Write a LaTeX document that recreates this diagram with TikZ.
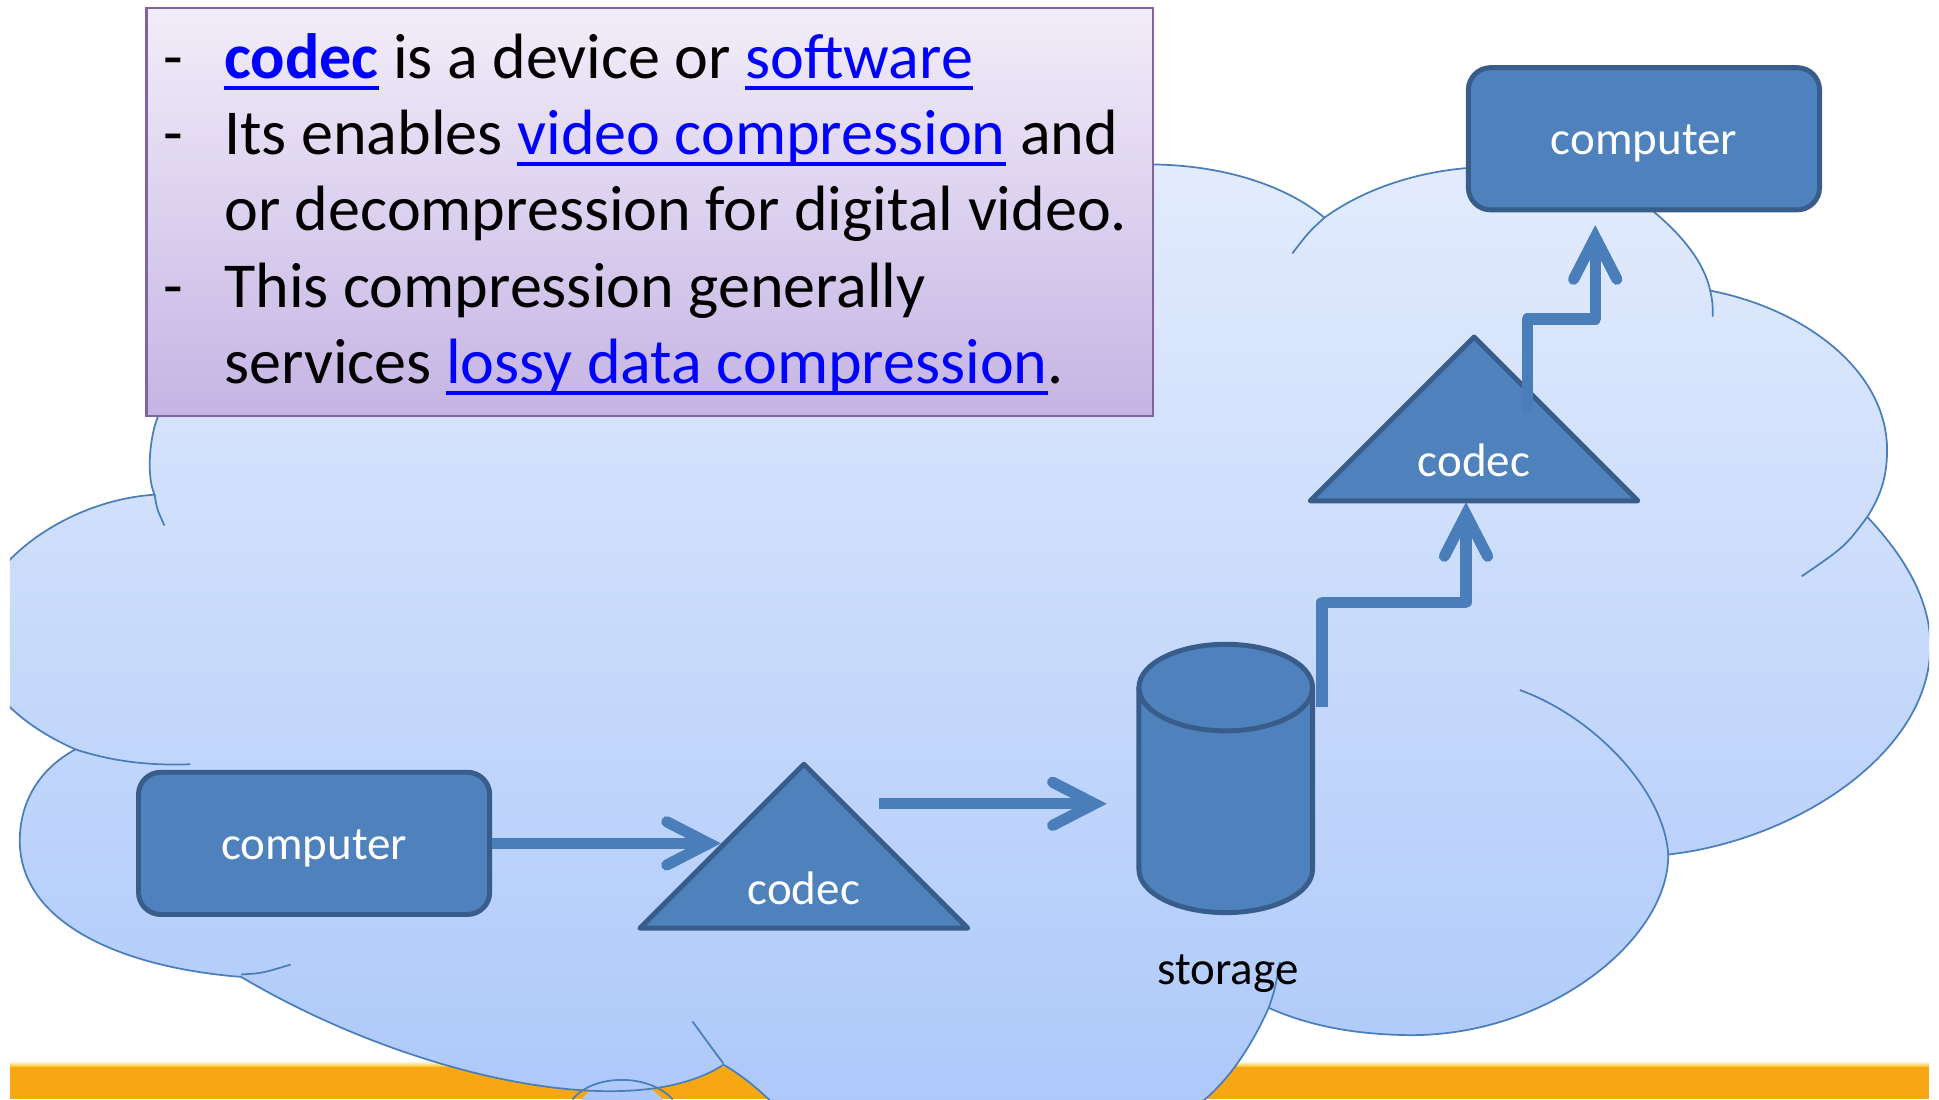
\documentclass[tikz,border=0pt]{standalone}
\usepackage{fontspec}
\setmainfont{Carlito}
\usetikzlibrary{arrows.meta}
\definecolor{cloudline}{RGB}{74,126,187}
\definecolor{cloudtop}{RGB}{229,237,253}
\definecolor{cloudbot}{RGB}{172,200,250}
\definecolor{shapefill}{RGB}{79,129,189}
\definecolor{shapeline}{RGB}{56,93,138}
\definecolor{arrowc}{RGB}{74,126,187}
\definecolor{barorange}{RGB}{247,167,18}
\definecolor{boxline}{RGB}{128,100,162}
\definecolor{boxtop}{RGB}{242,237,249}
\definecolor{boxbot}{RGB}{197,180,228}
\definecolor{linkblue}{RGB}{0,0,255}
\newcommand\lnk[1]{{\color{linkblue}\setbox0=\hbox{#1}\rlap{\rule[-0.18em]{\wd0}{0.065em}}\box0}}
\begin{document}
\begin{tikzpicture}[x=0.5pt,y=-0.5pt,
  cloudshape/.style={draw=cloudline, line width=0.7pt, top color=cloudtop, bottom color=cloudbot},
  innerarc/.style={draw=cloudline, line width=0.7pt},
  compbox/.style={rectangle, rounded corners=9pt, draw=shapeline, fill=shapefill, line width=2pt,
    minimum width=142pt, minimum height=57.5pt, text=white, font=\fontsize{19}{23}\selectfont,
    text height=16.3pt, text depth=3.5pt, inner sep=0pt},
  solidshape/.style={draw=shapeline, fill=shapefill, line width=2pt, line join=round},
  shapelabel/.style={anchor=base, inner sep=0pt, text=white, font=\fontsize{19}{23}\selectfont},
  plainlabel/.style={anchor=base, inner sep=0pt, text=black, font=\fontsize{19}{23}\selectfont},
  infobox/.style={draw=boxline, line width=1pt, top color=boxtop, bottom color=boxbot, inner sep=0pt},
  boxtext/.style={anchor=base west, inner sep=0pt, text=black, font=\fontsize{25.9}{30.8}\selectfont},
  conn/.style={draw=arrowc, line width=4.5pt, line join=round,
    -{Straight Barb[length=17pt, width=17.5pt, line cap=round, line join=miter]}}
]
\useasboundingbox (0,0) rectangle (1568,889);
\fill[white] (0,0) rectangle (1568,889);

\begin{scope}
\clip (8,0) rectangle (1560,889);
% orange bar
\shade[top color=white, bottom color=barorange!75!yellow] (8,858) rectangle (1560,863);
\fill[barorange] (8,863) rectangle (1560,889);
% small bottom lobe
\fill[cloudbot] (503,912) ellipse [x radius=41, y radius=38];
% cloud
\path[cloudshape] (125,400)
  .. controls (118,385) and (121,350) .. (129,334)
  .. controls (160,150) and (600,100) .. (934,133)
  .. controls (990,134) and (1040,150) .. (1071,176)
  .. controls (1100,155) and (1140,140) .. (1185,136)
  .. controls (1250,130) and (1320,150) .. (1337,171)
  .. controls (1360,190) and (1378,212) .. (1383,235)
  .. controls (1460,250) and (1526,300) .. (1526,364)
  .. controls (1526,390) and (1518,405) .. (1510,418)
  .. controls (1545,455) and (1561,490) .. (1561,522)
  .. controls (1561,610) and (1450,680) .. (1349,691)
  .. controls (1350,760) and (1250,840) .. (1135,837)
  .. controls (1090,836) and (1055,828) .. (1026,815)
  .. controls (1010,850) and (990,880) .. (960,900)
  -- (640,910)
  .. controls (630,895) and (605,872) .. (585,861)
  .. controls (510,910) and (330,870) .. (195,790)
  .. controls (95,782) and (16,745) .. (16,680)
  .. controls (16,645) and (35,620) .. (61,606)
  .. controls (25,590) and (-20,560) .. (-20,510)
  .. controls (-20,460) and (50,405) .. (125,400)
  -- cycle;
% inner arcs of the cloud
\draw[innerarc] (125,400) .. controls (127,412) .. (133,425);
\draw[innerarc] (61,606) .. controls (95,617) and (125,619) .. (154,618);
\draw[innerarc] (195,788) .. controls (212,787) .. (235,780);
\draw[innerarc] (463,889) .. controls (480,868) and (525,868) .. (544,889);
\draw[innerarc] (585,860) .. controls (576,848) .. (560,826);
\draw[innerarc] (1026,815) .. controls (1031,800) .. (1035,778);
\draw[innerarc] (1349,691) .. controls (1346,640) and (1290,580) .. (1229,558);
\draw[innerarc] (1510,418) .. controls (1492,442) .. (1457,466);
\draw[innerarc] (1383,235) .. controls (1385,245) .. (1385,256);
\draw[innerarc] (1071,176) .. controls (1058,188) .. (1045,205);
\end{scope}

% text box
\node[infobox, anchor=north west, minimum width=407pt, minimum height=165pt] (infobox) at (117.4,5.4) {};
\node[boxtext] (d1) at (132,63.3) {-};
\node[boxtext] (d2) at (132,125) {-};
\node[boxtext] (d3) at (132,248.4) {-};
\node[boxtext] (l1) at (181,63.3) {\lnk{\textbf{codec}} is a device or \lnk{software}};
\node[boxtext] (l2) at (181,125) {Its enables \lnk{video compression} and};
\node[boxtext] (l3) at (181,186.7) {or decompression for digital video.};
\node[boxtext] (l4) at (181,248.4) {This compression generally};
\node[boxtext] (l5) at (181,310.1) {services \lnk{lossy data compression}.};

% computers
\node[compbox] (comp1) at (254,682) {computer};
\node[compbox] (comp2) at (1329.4,112.2) {computer};

% codec triangles
\draw[solidshape] (517.4,750.6) -- (650,618) -- (782.6,750.6) -- cycle;
\node[shapelabel] (codecA) at (650,731.8) {codec};
\draw[solidshape] (1059.5,405) -- (1192,272.5) -- (1324.5,405) -- cycle;
\node[shapelabel] (codecB) at (1192,385.5) {codec};

% storage cylinder
\path[solidshape] (921,556) -- (921,703) arc[start angle=180, end angle=0, x radius=70.2, y radius=35] -- (1061.4,556) -- cycle;
\path[solidshape] (991.2,556) ellipse [x radius=70.2, y radius=35];
\node[plainlabel] (storage) at (993,796.5) {storage};

% connectors
\coordinate (c1L) at (583,682);
\coordinate (a2s) at (711,650);
\coordinate (a2e) at (895,650);
\coordinate (a3s) at (1069,572);
\coordinate (a3e) at (1185.5,406);
\coordinate (a4s) at (1235,334);
\coordinate (a4e) at (1290,182);
\draw[conn] (comp1.east) -- (c1L);
\draw[conn] (a2s) -- (a2e);
\draw[conn] (a3s) -- ++(0,-85) -| (a3e);
\draw[conn] (a4s) -- ++(0,-76) -| (a4e);
\end{tikzpicture}
\end{document}
